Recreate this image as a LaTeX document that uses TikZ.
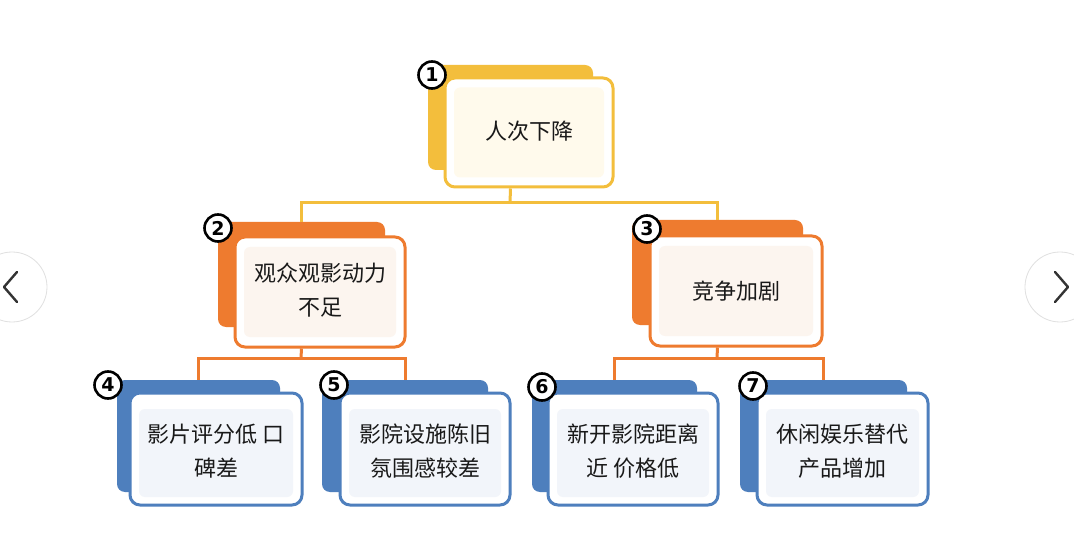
\documentclass[tikz,border=0pt]{standalone}
\usepackage{fontspec}
\newfontfamily\cjk{Noto Sans CJK SC}
\setmainfont{DejaVu Sans}
\begin{document}
\begin{tikzpicture}[x=1pt,y=-1pt,
  yel/.style={draw=none,fill=cYel},
  ora/.style={draw=none,fill=cOra},
  blu/.style={draw=none,fill=cBlu},
  backbox/.style={rectangle,rounded corners=8pt,inner sep=0pt},
  frontbox/.style={rectangle,rounded corners=10pt,inner sep=0pt,line width=3pt,fill=white},
  panel/.style={rectangle,rounded corners=6pt,inner sep=0pt,draw=none},
  label/.style={font=\cjk\fontsize{22pt}{34pt}\selectfont,text=black!90,align=center,inner sep=0pt},
  num/.style={circle,draw=black,line width=2.6pt,fill=white,minimum size=27pt,inner sep=0pt,font=\bfseries\fontsize{19pt}{19pt}\selectfont},
  conY/.style={draw=cYel,line width=3pt},
  conO/.style={draw=cOra,line width=3pt},
  navc/.style={circle,draw=black!12,line width=0.8pt,fill=white,minimum size=70pt,inner sep=0pt},
  chev/.style={draw=black!80,line width=2.4pt,line cap=round,line join=round}
]
\definecolor{cYel}{HTML}{F3BE3C}
\definecolor{cOra}{HTML}{EE7B2F}
\definecolor{cBlu}{HTML}{4E7FBD}
\definecolor{tYel}{HTML}{FFFAEC}
\definecolor{tOra}{HTML}{FCF5EF}
\definecolor{tBlu}{HTML}{F2F5FA}
\useasboundingbox (0,0) rectangle (1074,540);
\fill[white] (0,0) rectangle (1074,540);

% nav buttons
\node[navc] (navl) at (12,287) {};
\node[navc] (navr) at (1060,287) {};
\draw[chev] ([xshift=5pt,yshift=-15pt]navl.center) -- ([xshift=-8pt]navl.center) -- ([xshift=5pt,yshift=15pt]navl.center);
\draw[chev] ([xshift=-5pt,yshift=-15pt]navr.center) -- ([xshift=8pt]navr.center) -- ([xshift=-5pt,yshift=15pt]navr.center);

% junction coordinates
\coordinate (j1) at (510,203);
\coordinate (j2) at (301,358);
\coordinate (j3) at (717,358);

% back boxes
\node[backbox,yel,minimum width=165pt,minimum height=105pt] (b1) at (510.5,117.5) {};
\node[backbox,ora,minimum width=167pt,minimum height=105pt] (b2) at (301.5,274.5) {};
\node[backbox,ora,minimum width=171pt,minimum height=105pt] (b3) at (717.5,272.5) {};
\node[backbox,blu,minimum width=163pt,minimum height=112pt] (b4) at (198.5,436) {};
\node[backbox,blu,minimum width=166pt,minimum height=112pt] (b5) at (405,436) {};
\node[backbox,blu,minimum width=165pt,minimum height=112pt] (b6) at (614.5,436) {};
\node[backbox,blu,minimum width=167pt,minimum height=112pt] (b7) at (823.5,436) {};

% front boxes
\node[frontbox,draw=cYel,minimum width=168pt,minimum height=109pt] (f1) at (529,132.5) {};
\node[frontbox,draw=cOra,minimum width=170pt,minimum height=110pt] (f2) at (320,292) {};
\node[frontbox,draw=cOra,minimum width=172pt,minimum height=110pt] (f3) at (736,291) {};
\node[frontbox,draw=cBlu,minimum width=172pt,minimum height=112pt] (f4) at (216,449) {};
\node[frontbox,draw=cBlu,minimum width=170pt,minimum height=112pt] (f5) at (425,449) {};
\node[frontbox,draw=cBlu,minimum width=170pt,minimum height=112pt] (f6) at (633,449) {};
\node[frontbox,draw=cBlu,minimum width=171pt,minimum height=112pt] (f7) at (842.5,449) {};

% inner panels
\node[panel,fill=tYel,minimum width=150pt,minimum height=90pt] (p1) at (f1.center) {};
\node[panel,fill=tOra,minimum width=152pt,minimum height=90pt] (p2) at (f2.center) {};
\node[panel,fill=tOra,minimum width=154pt,minimum height=90pt] (p3) at (f3.center) {};
\node[panel,fill=tBlu,minimum width=154pt,minimum height=88pt] (p4) at ([yshift=-4pt]f4.center) {};
\node[panel,fill=tBlu,minimum width=152pt,minimum height=88pt] (p5) at ([yshift=-4pt]f5.center) {};
\node[panel,fill=tBlu,minimum width=152pt,minimum height=88pt] (p6) at ([yshift=-4pt]f6.center) {};
\node[panel,fill=tBlu,minimum width=153pt,minimum height=88pt] (p7) at ([yshift=-4pt]f7.center) {};

% connectors
\draw[conY] (b1.center |- f1.south) -- (j1);
\draw[conY] (b2.north) |- (j1) -| (b3.north);
\draw[conO] (b2.center |- f2.south) -- (j2);
\draw[conO] (b4.north) |- (j2) -| (b5.north);
\draw[conO] (b3.center |- f3.south) -- (j3);
\draw[conO] (b6.north) |- (j3) -| (b7.north);

% labels
\node[label] (t1) at ([yshift=1pt]f1.center) {人次下降};
\node[label] (t2) at ([yshift=2pt]f2.center) {观众观影动力\\不足};
\node[label] (t3) at (f3.center) {竞争加剧};
\node[label] (t4) at ([yshift=-2pt]f4.center) {影片评分低 口\\碑差};
\node[label] (t5) at ([yshift=-2pt]f5.center) {影院设施陈旧\\氛围感较差};
\node[label] (t6) at ([yshift=-2pt]f6.center) {新开影院距离\\近 价格低};
\node[label] (t7) at ([yshift=-2pt]f7.center) {休闲娱乐替代\\产品增加};

% numbers
\node[num] (n1) at (432,75) {1};
\node[num] (n2) at (218,228) {2};
\node[num] (n3) at (647,229) {3};
\node[num] (n4) at (108,385) {4};
\node[num] (n5) at (334,385) {5};
\node[num] (n6) at (542,387) {6};
\node[num] (n7) at (753,386) {7};
\end{tikzpicture}
\end{document}
